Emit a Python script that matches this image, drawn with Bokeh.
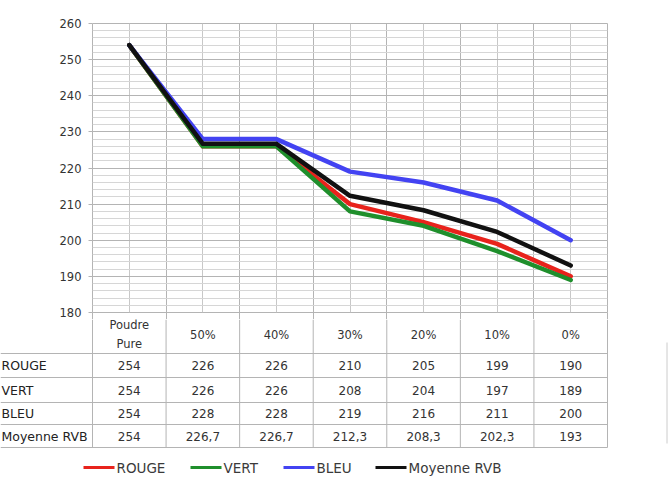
from bokeh.plotting import figure
from bokeh.models import Range1d, FixedTicker
from bokeh.embed import file_html
from bokeh.resources import INLINE
from bokeh.core.properties import value

# ---------------- data ----------------
categories = ["Poudre\nPure", "50%", "40%", "30%", "20%", "10%", "0%"]
series_names = ["ROUGE", "VERT", "BLEU", "Moyenne RVB"]
rouge = [254, 226, 226, 210, 205, 199, 190]
vert = [254, 226, 226, 208, 204, 197, 189]
bleu = [254, 228, 228, 219, 216, 211, 200]
moyenne = [254, 226.7, 226.7, 212.3, 208.3, 202.3, 193]
y_ticks = [180, 190, 200, 210, 220, 230, 240, 250, 260]

series = [rouge, vert, bleu, moyenne]
colors = ["#e8231c", "#1f8f2c", "#4343f2", "#111111"]

# ---------------- layout constants ----------------
W, H = 668, 483
FL, FR, FT, FB = 92, 607, 23, 312     # chart frame (page px)
GAP = 7                               # bottom border of chart figure
n = len(categories)
CW = (FR - FL) / n                    # px per category
FONT = value("DejaVu Sans")
GRID_MAJ = "#b4b4b4"
GRID_MIN = "#d6d6d6"
TXT = "#333333"

def px2x(px):
    return (px - FL) / CW

xc = [i + 0.5 for i in range(n)]

# ---------------- chart ----------------
p = figure(width=W, height=FB + GAP, x_range=Range1d(0, n),
           y_range=Range1d(y_ticks[0], y_ticks[-1]),
           output_backend="svg", toolbar_location=None, tools="",
           min_border_left=FL, min_border_right=W - FR,
           min_border_top=FT, min_border_bottom=GAP)
p.outline_line_color = GRID_MAJ
p.background_fill_color = "white"
p.border_fill_color = "white"

yt = FixedTicker(ticks=y_ticks,
                 minor_ticks=list(range(y_ticks[0], y_ticks[-1] + 1, 2)))
p.yaxis.ticker = yt
p.ygrid.ticker = yt
p.ygrid.grid_line_color = GRID_MAJ
p.ygrid.minor_grid_line_color = GRID_MIN
p.yaxis.axis_line_color = None
p.yaxis.minor_tick_line_color = None
p.yaxis.major_tick_out = 4
p.yaxis.major_tick_in = 0
p.yaxis.major_tick_line_color = GRID_MAJ
p.yaxis.major_label_text_font = "DejaVu Sans"
p.yaxis.major_label_text_font_size = "11.5px"
p.yaxis.major_label_text_color = TXT
p.yaxis.major_label_standoff = 7

xt = FixedTicker(ticks=list(range(n + 1)), minor_ticks=xc)
p.xaxis.ticker = xt
p.xgrid.ticker = xt
p.xgrid.grid_line_color = GRID_MAJ
p.xgrid.minor_grid_line_color = "#c8c8c8"
p.xaxis.axis_line_color = None
p.xaxis.minor_tick_line_color = None
p.xaxis.major_tick_out = GAP
p.xaxis.major_tick_in = 0
p.xaxis.major_tick_line_color = GRID_MAJ
p.xaxis.major_label_overrides = {i: "" for i in range(n + 1)}
p.xaxis.major_label_text_font_size = "1px"
p.xaxis.major_label_standoff = 0

for s, c in zip(series, colors):
    p.line(xc, s, line_color=c, line_width=4.5, line_join="round", line_cap="round")

# ---------------- table + legend ----------------
TOP = FB + GAP
t = figure(width=W, height=H - TOP,
           x_range=Range1d(px2x(0), px2x(W)), y_range=Range1d(H, TOP),
           output_backend="svg", toolbar_location=None, tools="",
           x_axis_location=None, y_axis_location=None,
           min_border=0, min_border_left=0, min_border_right=0,
           min_border_top=0, min_border_bottom=0)
t.outline_line_color = None
t.grid.visible = False
t.background_fill_color = "white"
t.border_fill_color = "white"

row_edges = [353, 377, 402, 424, 447]
header_y = 334
row_y = [365, 389.5, 413, 435.5]

# vertical borders
t.segment(x0=list(range(n + 1)), y0=[TOP] * (n + 1),
          x1=list(range(n + 1)), y1=[row_edges[-1]] * (n + 1),
          line_color=GRID_MAJ, line_width=1)
# horizontal borders
t.segment(x0=[px2x(0)] * len(row_edges), y0=row_edges,
          x1=[n] * len(row_edges), y1=row_edges,
          line_color=GRID_MAJ, line_width=1)
# stray border at right edge
t.segment(x0=[px2x(666.5)], y0=[342], x1=[px2x(666.5)], y1=[443],
          line_color="#cccccc", line_width=1)

# header texts
t.text(x=xc, y=[header_y] * n, text=categories, text_font=FONT,
       text_font_size="11.5px", text_color=TXT, text_align="center",
       text_baseline="middle", text_line_height=1.35)

def fmt(v):
    if float(v).is_integer():
        return str(int(v))
    return f"{v:.1f}".replace(".", ",")

for r, s in enumerate(series):
    t.text(x=xc, y=[row_y[r]] * n, text=[fmt(v) for v in s], text_font=FONT,
           text_font_size="12px", text_color=TXT, text_align="center",
           text_baseline="middle")

t.text(x=[px2x(1)] * len(series_names), y=row_y, text=series_names,
       text_font=FONT, text_font_size="12.5px", text_color="#222222",
       text_align="left", text_baseline="middle")

# legend
leg_x = [83, 190, 283, 375]
leg_y = 467
leg_len = 31
t.segment(x0=[px2x(v) for v in leg_x], y0=[leg_y] * 4,
          x1=[px2x(v + leg_len) for v in leg_x], y1=[leg_y] * 4,
          line_color=colors, line_width=3)
t.text(x=[px2x(v + leg_len + 2) for v in leg_x], y=[leg_y] * 4,
       text=series_names, text_font=FONT, text_font_size="13.5px",
       text_color="#3a3a3a", text_align="left", text_baseline="middle")

open("out.html", "w").write(file_html([p, t], INLINE))
